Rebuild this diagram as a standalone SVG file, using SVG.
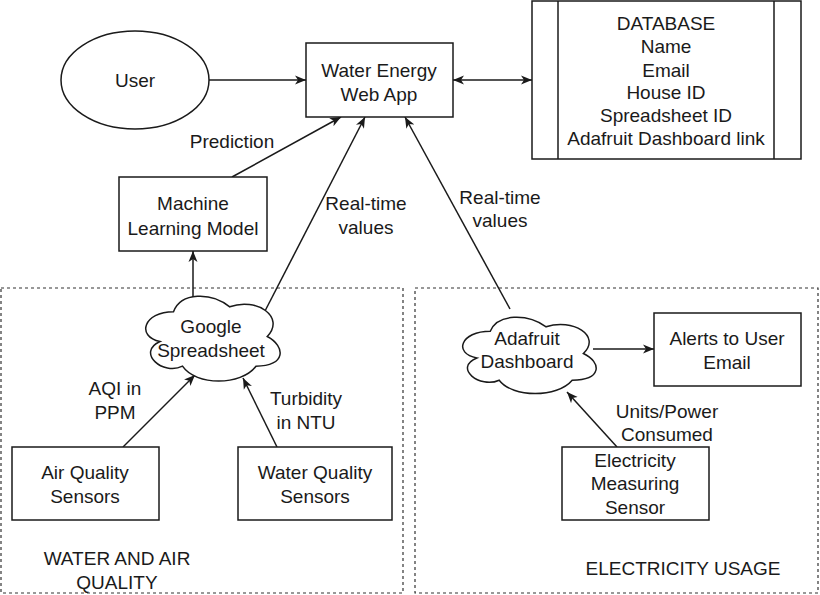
<svg xmlns="http://www.w3.org/2000/svg" width="820" height="595" viewBox="0 0 820 595">
<defs>
<style>
.s{fill:#fff;stroke:#1a1a1a;stroke-width:1.5}
.g{fill:none;stroke:#333;stroke-width:1.2;stroke-dasharray:3 3}
.c{fill:none;stroke:#1a1a1a;stroke-width:1.5}
text{font-family:"Liberation Sans",Arial,sans-serif;font-size:19px;fill:#1a1a1a;text-anchor:middle}
</style>
<marker id="ah" markerUnits="userSpaceOnUse" markerWidth="12" markerHeight="10" refX="11" refY="4.5" orient="auto-start-reverse" viewBox="0 0 12 9">
<path d="M0,0 L11,4.5 L0,9 L3,4.5 Z" fill="#1a1a1a"/>
</marker>
</defs>
<rect width="820" height="595" fill="#fff"/>
<g id="group-water-air">
<rect class="g" x="1" y="288" width="402" height="305"/>
<text x="117" y="565">WATER AND AIR</text>
<text x="117" y="589">QUALITY</text>
</g>
<g id="group-electricity">
<rect class="g" x="415" y="288" width="403" height="305"/>
<text x="683" y="575">ELECTRICITY USAGE</text>
</g>
<g id="connectors">
<line class="c" x1="209" y1="80" x2="306" y2="80" marker-end="url(#ah)"/>
<line class="c" x1="453" y1="80" x2="532" y2="80" marker-start="url(#ah)" marker-end="url(#ah)"/>
<line class="c" x1="232" y1="177" x2="341" y2="117" marker-end="url(#ah)"/>
<line class="c" x1="265" y1="311" x2="365" y2="117" marker-end="url(#ah)"/>
<line class="c" x1="510" y1="309" x2="405" y2="117" marker-end="url(#ah)"/>
<line class="c" x1="193" y1="297" x2="193" y2="251" marker-end="url(#ah)"/>
<line class="c" x1="123" y1="447" x2="195" y2="375" marker-end="url(#ah)"/>
<line class="c" x1="277" y1="447" x2="243" y2="378" marker-end="url(#ah)"/>
<line class="c" x1="593" y1="349" x2="654" y2="349" marker-end="url(#ah)"/>
<line class="c" x1="617" y1="447" x2="567" y2="392" marker-end="url(#ah)"/>
<text x="232" y="148">Prediction</text>
<text x="366" y="210">Real-time</text>
<text x="366" y="234">values</text>
<text x="500" y="204">Real-time</text>
<text x="500" y="227">values</text>
<text x="115" y="395">AQI in</text>
<text x="115" y="419">PPM</text>
<text x="306" y="405">Turbidity</text>
<text x="306" y="429">in NTU</text>
<text x="667" y="418">Units/Power</text>
<text x="667" y="441">Consumed</text>
</g>
<g id="user">
<ellipse class="s" cx="135" cy="80" rx="74" ry="49"/>
<text x="135" y="87">User</text>
</g>
<g id="webapp">
<rect class="s" x="306" y="43" width="147" height="74"/>
<text x="379" y="77">Water Energy</text>
<text x="379" y="101">Web App</text>
</g>
<g id="database">
<rect class="s" x="532" y="1" width="269" height="158"/>
<line class="c" x1="558" y1="1" x2="558" y2="159"/>
<line class="c" x1="774" y1="1" x2="774" y2="159"/>
<text x="666" y="30">DATABASE</text>
<text x="666" y="53">Name</text>
<text x="666" y="77">Email</text>
<text x="666" y="99">House ID</text>
<text x="666" y="122">Spreadsheet ID</text>
<text x="666" y="145">Adafruit Dashboard link</text>
</g>
<g id="ml-model">
<rect class="s" x="119" y="177" width="148" height="74"/>
<text x="193" y="210">Machine</text>
<text x="193" y="235">Learning Model</text>
</g>
<g id="google-spreadsheet">
<path class="s" d="M173.5,311.75 C143.5,311.75 136,336.5 160,341.45 C136,352.34 163,376.1 182.5,366.2 C196,386 241,386 256,366.2 C286,366.2 286,346.4 267.25,336.5 C286,316.7 256,296.9 229.75,306.8 C211,291.95 181,291.95 173.5,311.75 Z"/>
<text x="211" y="333">Google</text>
<text x="211" y="357">Spreadsheet</text>
</g>
<g id="air-sensors">
<rect class="s" x="12" y="447" width="147" height="73"/>
<text x="85" y="479">Air Quality</text>
<text x="85" y="503">Sensors</text>
</g>
<g id="water-sensors">
<rect class="s" x="238" y="447" width="154" height="73"/>
<text x="315" y="479">Water Quality</text>
<text x="315" y="503">Sensors</text>
</g>
<g id="adafruit-dashboard">
<path class="s" d="M490.25,331.25 C460.45,331.25 453,353.5 476.84,357.95 C453,367.74 479.82,389.1 499.19,380.2 C512.6,398 557.3,398 572.2,380.2 C602,380.2 602,362.4 583.375,353.5 C602,335.7 572.2,317.9 546.125,326.8 C527.5,313.45 497.7,313.45 490.25,331.25 Z"/>
<text x="527" y="345">Adafruit</text>
<text x="527" y="368">Dashboard</text>
</g>
<g id="alerts">
<rect class="s" x="654" y="313" width="147" height="73"/>
<text x="727" y="345">Alerts to User</text>
<text x="727" y="369">Email</text>
</g>
<g id="electricity-sensor">
<rect class="s" x="562" y="447" width="147" height="73"/>
<text x="635" y="467">Electricity</text>
<text x="635" y="490">Measuring</text>
<text x="635" y="514">Sensor</text>
</g>
</svg>
